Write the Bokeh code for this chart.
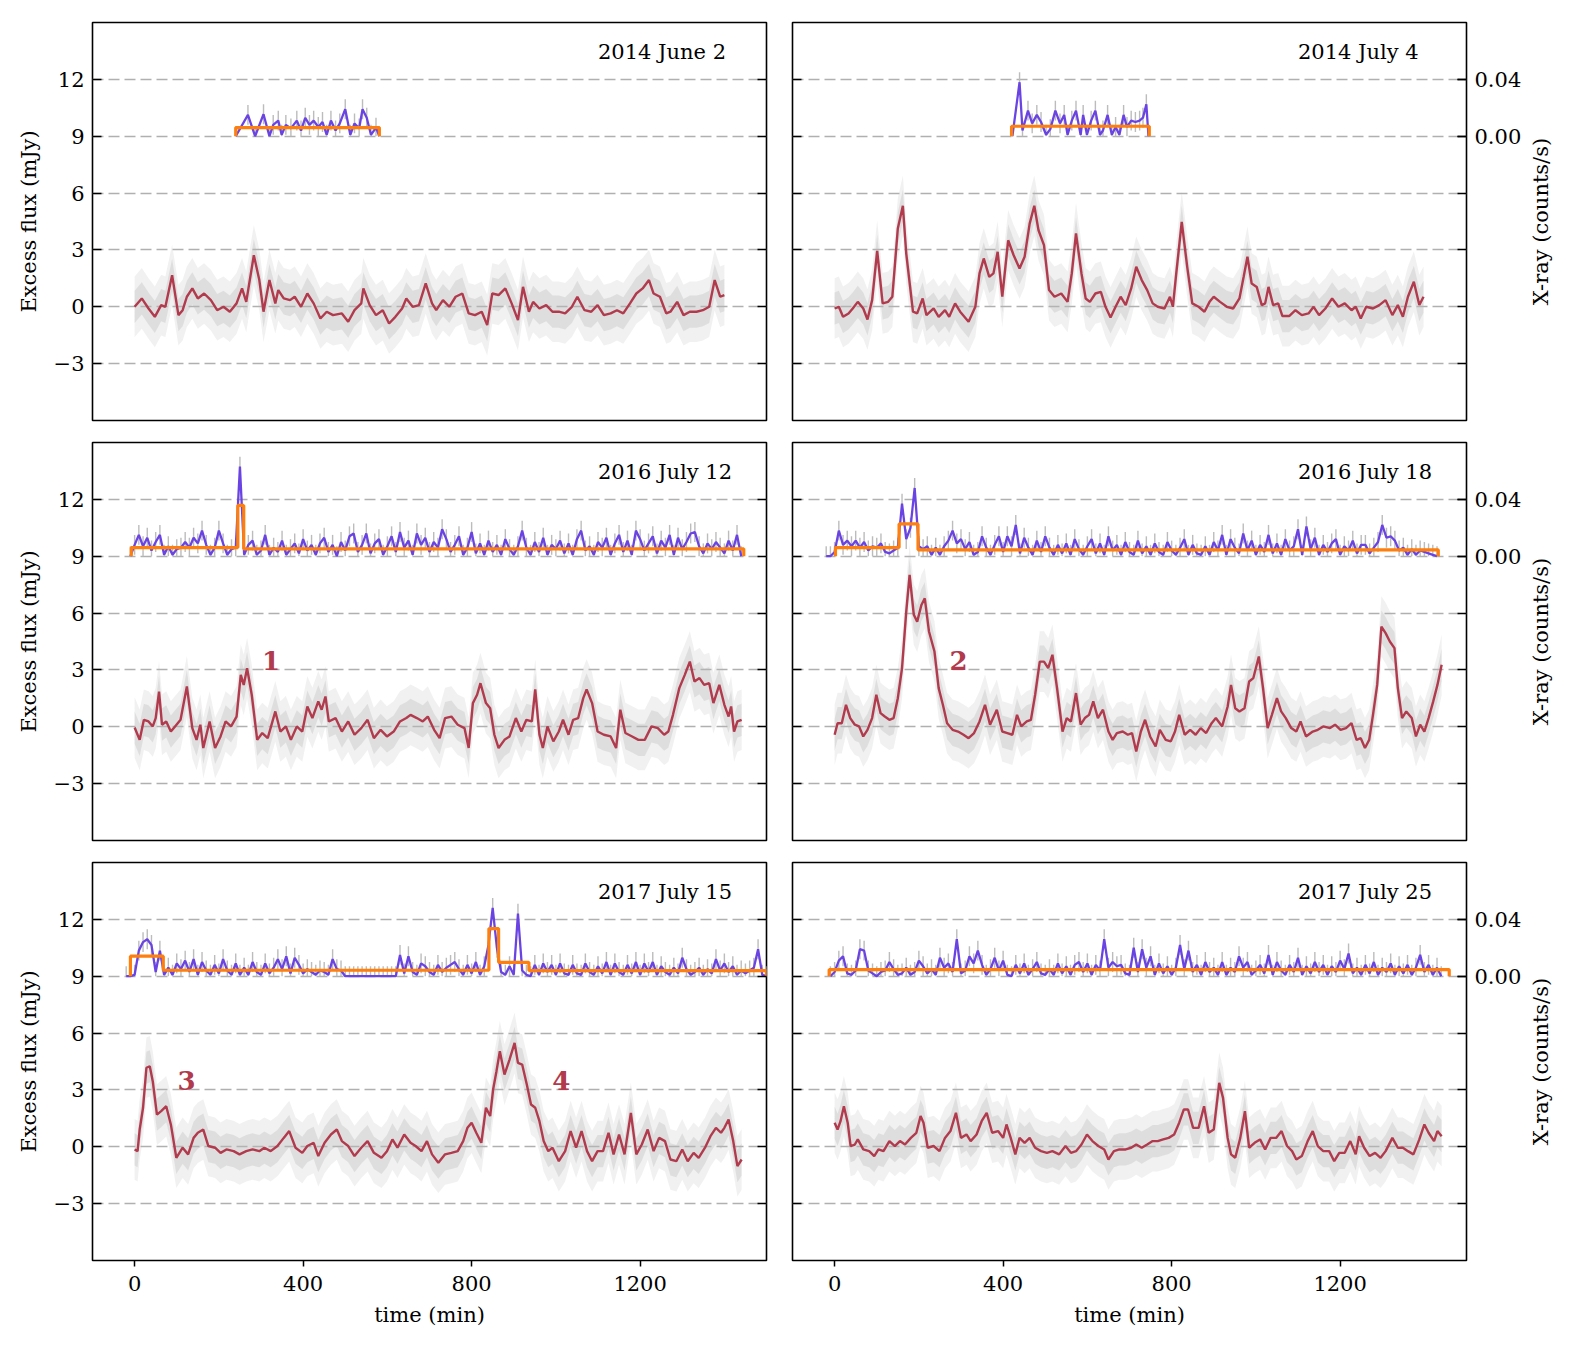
import numpy as np
from bokeh.plotting import figure
from bokeh.models import (Range1d, LinearAxis, FixedTicker, CustomJSTickFormatter,
                          CustomLabelingPolicy, PrintfTickFormatter, Label, Grid)
from bokeh.layouts import column, row
from bokeh.embed import file_html
from bokeh.resources import INLINE

FONT = "DejaVu Serif"
RED = "#b13a4d"
PURPLE = "#6a44e2"
ORANGE = "#ff7f0e"
CLOUD = "#b8b8b8"
ERRBAR = "#bcbcbc"

FLUX_TICKS = [-3, 0, 3, 6, 9, 12]
XRAY_TICKS = [0.0, 0.04]
TIME_TICKS = [0, 400, 800, 1200]

# half-widths (mJy) of the dense core and of the full spread of the 1-min radio points
CLOUD_CORE = 0.85
CLOUD_WIDE = 1.6
# typical 1-sigma error of an X-ray bin (counts/s)
XRAY_ERR = 0.007

# ---- smoothed radio light curves: (time [min], excess flux [mJy]) ----
RADIO_140602 = [(0, 0.0), (17, 0.44), (33, -0.09), (48, -0.53), (63, 0.09), (73, 0.0), (89, 1.67), (104, -0.44),
                (114, -0.18), (124, 0.53), (137, 0.97), (150, 0.44), (165, 0.70), (181, 0.35), (196, -0.18), (211, 0.0),
                (226, -0.26), (242, 0.18), (255, 0.97), (265, 0.26), (283, 2.72), (296, 1.41), (306, -0.26), (320, 1.41),
                (334, 0.18), (341, 0.88), (354, 0.44), (369, 0.35), (380, 0.53), (395, 0.0), (410, 0.70), (425, 0.18),
                (441, -0.62), (456, -0.26), (471, -0.44), (492, -0.35), (507, -0.79), (522, -0.18), (538, 0.18),
                (543, 0.97), (558, 0.09), (573, -0.44), (589, -0.18), (604, -0.88), (619, -0.53), (635, -0.09),
                (645, 0.44), (660, 0.0), (675, 0.09), (691, 1.23), (706, 0.18), (716, -0.18), (732, 0.35), (747, 0.0),
                (762, 0.53), (778, 0.70), (793, -0.35), (808, -0.44), (824, -0.26), (837, -0.97), (849, 0.70),
                (864, 0.62), (880, 0.97), (895, 0.18), (910, -0.70), (922, 1.05), (936, -0.26), (946, 0.26),
                (961, -0.09), (977, 0.09), (992, -0.26), (1007, -0.26), (1022, -0.35), (1038, 0.0), (1051, 0.53),
                (1068, -0.18), (1084, -0.26), (1099, 0.09), (1114, -0.44), (1130, -0.35), (1145, -0.18), (1160, -0.35),
                (1176, 0.18), (1191, 0.70), (1206, 0.97), (1221, 1.41), (1232, 0.70), (1247, 0.53), (1262, -0.35),
                (1272, -0.26), (1288, 0.26), (1303, -0.44), (1318, -0.26), (1334, -0.26), (1349, -0.18), (1364, 0.0),
                (1377, 1.41), (1390, 0.53), (1400, 0.62)]

RADIO_140704 = [(0, -0.09), (10, 0.0), (20, -0.53), (33, -0.35), (43, -0.09), (55, 0.26), (68, -0.09), (78, -0.67),
                (89, 0.35), (101, 2.95), (114, 0.18), (127, 0.26), (137, 0.53), (150, 4.13), (162, 5.33), (170, 2.81),
                (186, -0.26), (196, -0.35), (209, 0.44), (218, -0.44), (235, -0.09), (247, -0.53), (262, -0.18),
                (272, -0.53), (286, 0.18), (298, -0.26), (318, -0.79), (334, 0.0), (344, 1.76), (354, 2.55),
                (367, 1.58), (377, 1.76), (387, 2.90), (398, 0.53), (412, 3.51), (425, 2.72), (439, 2.02), (451, 2.64),
                (463, 4.39), (474, 5.33), (484, 4.04), (497, 3.25), (509, 0.88), (522, 0.53), (538, 0.70), (553, 0.26),
                (563, 1.76), (573, 3.87), (586, 1.76), (596, 0.44), (606, 0.26), (619, 0.70), (632, 0.79), (643, 0.0),
                (655, -0.56), (667, 0.0), (679, 0.53), (691, 0.09), (704, 0.97), (716, 2.11), (729, 1.41), (742, 0.88),
                (755, 0.18), (767, 0.0), (783, -0.09), (796, 0.53), (803, 0.0), (811, 1.76), (824, 4.48), (837, 2.11),
                (849, 0.18), (864, 0.0), (878, -0.26), (890, 0.26), (900, 0.53), (915, 0.26), (931, 0.0), (946, -0.09),
                (961, 0.44), (971, 1.58), (980, 2.64), (990, 1.23), (1002, 1.05), (1014, 0.09), (1022, 0.18),
                (1030, 1.05), (1041, 0.09), (1053, 0.18), (1063, -0.49), (1079, -0.49), (1094, -0.18), (1109, -0.44),
                (1125, -0.35), (1137, 0.0), (1150, -0.44), (1165, -0.09), (1181, 0.44), (1196, 0.0), (1211, 0.18),
                (1227, -0.18), (1237, 0.0), (1249, -0.62), (1262, 0.0), (1278, -0.09), (1293, 0.09), (1308, 0.35),
                (1324, -0.44), (1337, 0.09), (1349, -0.53), (1361, 0.53), (1375, 1.32), (1388, 0.09), (1398, 0.53)]

RADIO_160712 = [(0, -0.04), (12, -0.69), (22, 0.37), (33, 0.28), (43, 0.02), (50, 0.46), (58, 1.86), (65, 0.11),
                (75, 0.28), (86, -0.25), (96, 0.02), (109, 0.37), (124, 2.13), (137, -0.07), (147, -0.69), (156, 0.11),
                (163, -1.12), (178, 0.28), (191, -1.12), (204, -0.51), (216, 0.28), (229, 0.02), (242, 0.54),
                (252, 2.74), (259, 2.21), (267, 3.09), (278, 1.69), (291, -0.69), (303, -0.33), (316, -0.60),
                (334, 0.81), (346, -0.25), (359, 0.02), (371, -0.69), (385, 0.02), (398, -0.25), (410, 1.07),
                (422, 0.46), (436, 1.34), (444, 0.90), (453, 1.60), (461, 0.28), (477, 0.46), (492, -0.25), (507, 0.28),
                (522, -0.42), (538, -0.07), (553, 0.37), (568, -0.60), (584, -0.16), (599, -0.51), (615, -0.25),
                (630, 0.28), (645, 0.46), (655, 0.63), (670, 0.46), (684, 0.28), (696, 0.54), (711, -0.16),
                (724, -0.60), (737, 0.46), (752, 0.54), (767, 0.11), (783, -0.07), (793, -1.12), (803, 1.25),
                (813, 1.69), (821, 2.30), (834, 1.25), (844, 0.98), (854, -0.42), (864, -1.12), (878, -0.69),
                (890, -0.51), (905, 0.46), (918, -0.25), (930, 0.37), (943, 0.28), (951, 1.97), (961, -0.42),
                (969, -1.12), (980, 0.02), (994, -0.77), (1007, -0.25), (1017, 0.37), (1030, -0.42), (1041, 0.37),
                (1053, 0.46), (1065, 1.51), (1073, 1.97), (1086, 1.25), (1099, -0.25), (1114, -0.42), (1130, -0.51),
                (1143, -1.12), (1153, 0.90), (1165, -0.33), (1181, -0.51), (1196, -0.69), (1211, -0.69), (1227, 0.02),
                (1242, -0.07), (1257, -0.42), (1267, -0.25), (1278, 0.63), (1293, 2.04), (1306, 2.74), (1318, 3.44),
                (1329, 2.39), (1341, 2.57), (1352, 2.21), (1364, 2.30), (1374, 1.25), (1388, 2.21), (1400, 1.16),
                (1410, 0.54), (1416, 1.07), (1423, -0.25), (1431, 0.28), (1441, 0.37)]

RADIO_160718 = [(0, -0.42), (7, 0.19), (17, 0.19), (27, 1.16), (37, 0.46), (48, 0.11), (58, 0.02), (68, -0.51),
                (78, -0.16), (89, 0.46), (99, 1.69), (109, 0.72), (119, 0.54), (130, 0.37), (140, 0.46), (150, 1.51),
                (160, 3.09), (170, 6.08), (178, 8.01), (188, 5.91), (196, 5.55), (206, 6.43), (214, 6.78), (224, 5.03),
                (237, 3.97), (247, 2.04), (257, 1.16), (267, 0.19), (280, -0.16), (293, -0.25), (306, -0.42),
                (318, -0.60), (331, -0.33), (344, 0.28), (357, 1.16), (369, 0.11), (385, 0.90), (398, -0.25),
                (410, -0.33), (422, -0.42), (433, 0.63), (443, 0.02), (456, 0.28), (466, 0.37), (476, 1.69),
                (487, 3.44), (497, 3.44), (507, 3.09), (517, 3.80), (528, 2.04), (541, -0.25), (551, 0.46), (561, 0.28),
                (573, 1.78), (584, 0.11), (594, 0.46), (604, 0.63), (614, 1.34), (625, 0.46), (637, 0.90), (650, -0.25),
                (660, -0.69), (670, -0.33), (684, -0.25), (696, -0.42), (706, -0.33), (716, -1.30), (727, -0.25),
                (737, 0.37), (749, -0.51), (762, -1.04), (772, -0.16), (786, -0.69), (798, -0.77), (808, -0.25),
                (818, 0.63), (831, -0.42), (844, -0.16), (857, -0.42), (869, -0.07), (882, -0.33), (895, 0.19),
                (905, 0.46), (920, 0.02), (933, 1.07), (941, 2.21), (951, 0.98), (961, 0.81), (973, 0.98), (984, 2.39),
                (994, 2.57), (1007, 3.71), (1017, 2.04), (1028, -0.07), (1038, 0.63), (1050, 1.51), (1060, 0.81),
                (1071, 0.46), (1084, -0.07), (1096, -0.25), (1106, 0.28), (1119, -0.51), (1135, -0.25), (1147, -0.16),
                (1160, 0.02), (1176, -0.07), (1188, 0.11), (1201, -0.16), (1214, -0.07), (1227, 0.19), (1239, -0.69),
                (1249, -0.60), (1259, -1.12), (1269, -0.69), (1278, 0.63), (1288, 2.21), (1298, 5.29), (1308, 4.94),
                (1318, 4.50), (1329, 4.15), (1337, 2.04), (1347, 0.46), (1357, 0.81), (1370, 0.46), (1380, -0.51),
                (1390, 0.11), (1400, -0.25), (1410, 0.46), (1421, 1.34), (1431, 2.21), (1441, 3.27)]

RADIO_170715 = [(0, -0.14), (7, -0.23), (12, 0.91), (20, 2.06), (28, 4.17), (36, 4.25), (43, 3.46), (53, 1.70),
                (63, 1.88), (75, 2.14), (86, 1.18), (99, -0.58), (114, -0.05), (127, -0.40), (140, 0.47), (150, 0.74),
                (163, 0.91), (175, 0.04), (191, -0.05), (204, -0.32), (218, -0.14), (235, -0.23), (249, -0.40),
                (265, -0.23), (280, -0.14), (296, -0.23), (308, -0.05), (323, -0.23), (339, 0.04), (354, 0.47),
                (367, 0.83), (382, -0.05), (398, -0.32), (410, 0.04), (425, 0.21), (436, -0.49), (451, 0.21),
                (466, 0.65), (480, 0.91), (492, 0.30), (507, 0.04), (522, -0.49), (538, -0.05), (553, 0.30),
                (568, -0.32), (586, -0.58), (599, -0.23), (612, 0.39), (624, -0.05), (640, 0.65), (655, 0.21),
                (667, 0.04), (681, -0.23), (694, 0.30), (706, -0.40), (721, -0.84), (737, -0.40), (752, -0.32),
                (767, -0.23), (780, 0.30), (790, 1.00), (800, 1.27), (811, 0.74), (823, 0.21), (834, 2.06), (844, 1.62),
                (851, 3.02), (859, 3.99), (867, 5.04), (878, 3.81), (890, 4.60), (902, 5.48), (910, 4.43), (920, 4.34),
                (931, 3.29), (941, 2.23), (951, 2.06), (961, 1.35), (971, 0.30), (982, -0.23), (992, -0.05),
                (1007, -0.76), (1022, -0.23), (1035, 0.83), (1048, -0.05), (1061, 0.83), (1074, -0.23), (1086, -0.76),
                (1099, -0.23), (1112, -0.23), (1125, 0.74), (1137, -0.40), (1150, 0.65), (1163, -0.40), (1178, 1.79),
                (1191, -0.40), (1204, 0.12), (1218, 0.91), (1232, -0.23), (1245, 0.47), (1259, 0.30), (1272, -0.67),
                (1286, -0.76), (1300, -0.14), (1313, -0.76), (1327, -0.32), (1339, -0.58), (1354, -0.05), (1367, 0.56),
                (1380, 1.00), (1392, 0.74), (1400, 1.00), (1410, 1.44), (1421, 0.30), (1431, -1.02), (1441, -0.67)]

RADIO_170725 = [(0, 1.27), (7, 0.91), (14, 1.35), (22, 2.14), (31, 1.27), (38, 0.04), (48, 0.12), (55, 0.39),
                (68, -0.14), (82, -0.23), (94, -0.49), (104, -0.14), (116, -0.23), (130, 0.30), (143, 0.04), (155, 0.30),
                (167, 0.12), (181, 0.47), (194, 0.74), (204, 1.62), (211, 1.27), (221, -0.05), (235, 0.04),
                (249, -0.23), (262, 0.47), (275, 0.83), (288, 1.79), (300, 0.47), (313, 0.65), (323, 0.30), (337, 0.65),
                (349, 1.35), (361, 1.79), (374, 0.74), (388, 0.83), (400, 0.47), (408, 1.18), (418, 0.47), (429, -0.40),
                (439, 0.47), (451, 0.21), (463, 0.47), (476, -0.05), (490, -0.23), (504, -0.32), (517, -0.23),
                (533, -0.40), (548, 0.04), (561, -0.32), (573, -0.23), (586, 0.12), (599, 0.65), (612, 0.30),
                (626, 0.04), (640, -0.14), (650, -0.67), (663, -0.23), (676, -0.14), (691, -0.14), (704, -0.05),
                (716, 0.12), (729, -0.05), (742, 0.12), (755, 0.30), (767, 0.30), (780, 0.39), (793, 0.47), (806, 0.65),
                (818, 1.27), (829, 1.97), (839, 1.97), (851, 1.00), (864, 1.00), (877, 2.14), (888, 0.74), (900, 0.91),
                (913, 3.37), (922, 2.58), (933, 0.47), (941, -0.40), (951, -0.58), (963, 0.47), (974, 1.88),
                (984, -0.05), (997, 0.21), (1010, 0.39), (1022, -0.14), (1035, 0.47), (1048, 0.47), (1061, 0.83),
                (1074, 0.04), (1086, -0.23), (1096, -0.67), (1109, -0.49), (1123, 0.30), (1135, 0.83), (1147, 0.04),
                (1160, -0.23), (1174, -0.23), (1186, -0.76), (1198, -0.32), (1211, -0.32), (1224, 0.30), (1237, -0.40),
                (1245, 0.56), (1257, -0.05), (1270, -0.49), (1283, -0.32), (1296, -0.58), (1308, -0.23), (1324, 0.47),
                (1337, -0.05), (1349, -0.05), (1361, -0.23), (1374, -0.40), (1388, 0.39), (1400, 1.18), (1410, 0.74),
                (1423, 0.30), (1431, 0.83), (1441, 0.56)]

# ---- X-ray rates in units of 1e-3 counts/s ----
XRAY_140602 = [(240, 0), (269, 15), (286, 0), (306, 15.5), (320, 0), (329, 8), (341, 11), (349, 1), (359, 8),
               (371, 5.5), (385, 11), (395, 4), (405, 13), (415, 8), (425, 11), (436, 6.5), (446, 10), (456, 1),
               (466, 11), (477, 4), (487, 9), (500, 19), (512, 1), (522, 9), (533, 5.5), (541, 19), (551, 13),
               (561, 1), (573, 6), (581, 0)]
XRAY_140704 = [(422, 0), (439, 38), (446, 4), (459, 18), (469, 9), (480, 15), (490, 10), (502, 1), (512, 5),
               (524, 18), (535, 9), (545, 15), (553, 1), (563, 11), (573, 18), (584, 1), (590, 15), (599, 1),
               (609, 11), (619, 18), (630, 1), (637, 4), (648, 15), (658, 1), (667, 6.5), (676, 1), (686, 15),
               (694, 6.5), (704, 11), (714, 10), (724, 11), (732, 13), (740, 22.5), (745, 0)]
# 10-minute bins: first bin time, then rates
XRAY_160712_START = -10
XRAY_160712 = [0, 8, 15, 7, 13, 4, 10, 15, 1, 7, 1, 5, 6, 10, 6, 13, 9, 18, 8, 1,
               6, 18, 9, 1, 5, 6, 63, 1, 8, 11, 1, 4, 15, 1, 6, 3, 11, 1, 5, 9,
               2, 12, 4, 8, 1, 9, 13, 3, 8, 0, 10, 4, 14, 16, 3, 8, 16, 2, 9, 12,
               1, 7, 14, 3, 17, 6, 11, 1, 16, 8, 13, 3, 10, 6, 19, 12, 3, 8, 14, 1,
               6, 17, 2, 9, 1, 11, 3, 8, 1, 12, 5, 1, 7, 18, 6, 1, 10, 3, 13, 1,
               8, 5, 11, 2, 9, 1, 12, 18, 4, 7, 1, 10, 6, 13, 1, 9, 15, 3, 11, 1,
               18, 12, 4, 9, 14, 2, 11, 6, 15, 1, 13, 5, 10, 16, 17, 7, 2, 9, 5, 10,
               6, 2, 11, 4, 15, 0]
XRAY_160718_START = -20
XRAY_160718 = [0, 0, 3, 18, 8, 11, 7, 11, 6, 10, 4, 7, 6, 9, 3, 2, 4, 6, 37, 12,
               20, 48, 7, 5, 7, 1, 6, 1, 7, 11, 18, 9, 12, 5, 10, 1, 3, 14, 6, 1,
               8, 14, 3, 14, 7, 22, 2, 13, 6, 1, 11, 3, 14, 6, 1, 8, 2, 9, 1, 12,
               5, 1, 7, 12, 2, 9, 1, 14, 4, 8, 1, 10, 3, 1, 11, 2, 7, 1, 9, 3,
               1, 10, 4, 1, 6, 12, 1, 8, 2, 1, 7, 1, 10, 4, 15, 1, 12, 6, 2, 16,
               4, 11, 1, 8, 3, 15, 2, 9, 1, 12, 4, 7, 19, 1, 21, 5, 13, 1, 8, 3,
               9, 12, 1, 7, 4, 11, 2, 8, 8, 2, 6, 10, 22, 13, 14, 11, 4, 6, 1, 5,
               1, 4, 3, 2, 1, 0]
XRAY_170715_START = -20
XRAY_170715 = [0, 0, 1, 18, 24, 26, 22, 3, 18, 1, 6, 1, 9, 5, 11, 3, 12, 1, 10, 4,
               1, 8, 2, 12, 4, 1, 9, 1, 6, 1, 10, 3, 1, 9, 2, 6, 12, 5, 14, 2,
               13, 8, 2, 5, 3, 1, 4, 3, 1, 12, 5, 4, 0, 0, 0, 0, 0, 0, 0, 0,
               0, 0, 0, 0, 0, 15, 2, 14, 3, 1, 9, 7, 3, 1, 8, 3, 6, 8, 10, 5,
               1, 8, 2, 10, 1, 7, 22, 48, 20, 3, 1, 7, 1, 44, 4, 1, 0, 8, 1, 9,
               3, 8, 1, 9, 2, 1, 8, 2, 1, 9, 3, 1, 7, 2, 10, 1, 9, 3, 1, 8,
               2, 10, 1, 9, 3, 10, 1, 7, 3, 1, 6, 2, 13, 5, 1, 3, 6, 1, 5, 2,
               12, 4, 9, 3, 7, 1, 4, 2, 4, 6, 19, 1, 0]
XRAY_170725_START = -10
XRAY_170725 = [0, 3, 11, 14, 2, 1, 4, 19, 18, 4, 2, 0, 3, 4, 10, 5, 1, 2, 6, 1,
               3, 11, 7, 2, 5, 1, 13, 6, 9, 3, 26, 2, 4, 14, 9, 18, 8, 1, 5, 13,
               4, 11, 1, 0, 8, 2, 9, 1, 5, 10, 2, 1, 5, 1, 9, 2, 7, 1, 8, 10,
               3, 9, 1, 8, 4, 26, 6, 10, 7, 8, 2, 1, 20, 3, 19, 6, 14, 1, 9, 2,
               7, 1, 6, 22, 5, 18, 3, 8, 1, 10, 3, 6, 1, 10, 1, 6, 3, 14, 6, 10,
               1, 4, 8, 2, 15, 1, 10, 4, 1, 8, 3, 13, 1, 7, 2, 10, 3, 8, 1, 7,
               3, 11, 5, 16, 2, 6, 1, 8, 2, 10, 1, 6, 3, 9, 1, 7, 2, 8, 1, 6,
               15, 3, 8, 1, 6, 0]

# ---- Bayesian-block edges [min] and block rates [1e-3 counts/s] ----
BLOCK_EDGES_140602, BLOCK_RATES_140602 = [240, 581], [6.1]
BLOCK_EDGES_140704, BLOCK_RATES_140704 = [420, 747], [7.0]
BLOCK_EDGES_160712, BLOCK_RATES_160712 = [-8, 245, 259, 1446], [6.1, 35.7, 5.2]
BLOCK_EDGES_160718, BLOCK_RATES_160718 = [2, 153, 198, 1433], [6.1, 22.7, 4.5]
BLOCK_EDGES_170715, BLOCK_RATES_170715 = [-10, 68, 841, 864, 936, 1500], [14.1, 4.2, 33.5, 9.8, 4.0]
BLOCK_EDGES_170725, BLOCK_RATES_170725 = [-13, 1459], [4.7]

# numbered flares: (time [min], label)
FLARES_160712 = [(324, "1")]
FLARES_160718 = [(294, "2")]
FLARES_170715 = [(123, "3"), (1013, "4")]


def binned(start, rates):
    t = start + 10 * np.arange(len(rates))
    return list(zip(t.tolist(), rates))


PANELS = [
    ("2014 June 2", RADIO_140602, XRAY_140602, BLOCK_EDGES_140602, BLOCK_RATES_140602, []),
    ("2014 July 4", RADIO_140704, XRAY_140704, BLOCK_EDGES_140704, BLOCK_RATES_140704, []),
    ("2016 July 12", RADIO_160712, binned(XRAY_160712_START, XRAY_160712), BLOCK_EDGES_160712, BLOCK_RATES_160712, FLARES_160712),
    ("2016 July 18", RADIO_160718, binned(XRAY_160718_START, XRAY_160718), BLOCK_EDGES_160718, BLOCK_RATES_160718, FLARES_160718),
    ("2017 July 15", RADIO_170715, binned(XRAY_170715_START, XRAY_170715), BLOCK_EDGES_170715, BLOCK_RATES_170715, FLARES_170715),
    ("2017 July 25", RADIO_170725, binned(XRAY_170725_START, XRAY_170725), BLOCK_EDGES_170725, BLOCK_RATES_170725, []),
]

MINUS_JS = "return tick < 0 ? '\u2212' + (-tick) : String(tick);"
BLANK_JS = "return '';"

T_MIN, T_MAX = -100, 1500
F_MIN, F_MAX = -6, 15
FRAME_W, FRAME_H = 674, 398
TICK_LEN_PX = 9


def borders(rw):
    return dict(min_border_top=22 if rw == 0 else 11,
                min_border_bottom=90 if rw == 2 else 11)


def block_outline(edges, rates):
    xs, ys = [edges[0]], [0.0]
    for i, r in enumerate(rates):
        xs += [edges[i], edges[i + 1]]
        ys += [r, r]
    xs.append(edges[-1])
    ys.append(0.0)
    return xs, ys


def style_axis(ax):
    ax.axis_line_color = None
    ax.major_tick_line_color = "black"
    ax.major_tick_line_width = 1.5
    ax.minor_tick_line_color = None
    ax.major_label_text_font = FONT
    ax.major_label_text_font_size = "21px"
    ax.major_label_text_color = "black"
    ax.axis_label_text_font = FONT
    ax.axis_label_text_font_size = "21px"
    ax.axis_label_text_font_style = "normal"
    ax.axis_label_text_color = "black"


def flux_tick_axis(labelled):
    ax = LinearAxis(ticker=FixedTicker(ticks=FLUX_TICKS))
    style_axis(ax)
    ax.major_tick_in = TICK_LEN_PX
    ax.major_tick_out = 0
    if labelled:
        ax.formatter = CustomJSTickFormatter(code=MINUS_JS)
        ax.major_label_standoff = 8
    else:
        # tick marks only, no tick labels on this side
        ax.formatter = CustomJSTickFormatter(code=BLANK_JS)
        ax.major_label_policy = CustomLabelingPolicy(code="return [];")
        ax.major_label_standoff = 0
    return ax


def make_panel(idx, spec):
    date, radio, xray, edges, rates, flares = spec
    col, rw = idx % 2, idx // 2
    p = figure(frame_width=FRAME_W, frame_height=FRAME_H,
               x_range=Range1d(T_MIN, T_MAX), y_range=Range1d(F_MIN, F_MAX),
               x_axis_location=None, y_axis_location=None,
               output_backend="svg", toolbar_location=None,
               min_border_left=92 if col == 0 else 13,
               min_border_right=13 if col == 0 else 56,
               **borders(rw))
    p.xgrid.visible = False
    p.ygrid.visible = False
    p.extra_y_ranges = {"xray": Range1d(-0.2, 0.08)}
    p.outline_line_color = "black"
    p.outline_line_width = 1.6
    p.background_fill_color = "white"
    p.border_fill_color = "white"

    p.add_layout(Grid(dimension=1, ticker=FixedTicker(ticks=FLUX_TICKS),
                      grid_line_color="#b0b0b0", grid_line_width=1.4, grid_line_dash="11 5"))

    t = np.array([a for a, _ in radio], dtype=float)
    f = np.array([b for _, b in radio], dtype=float)
    p.varea(x=t, y1=f - CLOUD_WIDE, y2=f + CLOUD_WIDE, fill_color=CLOUD, fill_alpha=0.2)
    p.varea(x=t, y1=f - CLOUD_CORE, y2=f + CLOUD_CORE, fill_color=CLOUD, fill_alpha=0.32)
    p.line(t, f, line_color=RED, line_width=2.4)

    xt = np.array([a for a, _ in xray], dtype=float)
    xr = np.array([b for _, b in xray], dtype=float) / 1000.0
    p.segment(x0=xt, y0=np.maximum(xr - XRAY_ERR, 0.0), x1=xt, y1=xr + XRAY_ERR,
              y_range_name="xray", line_color=ERRBAR, line_width=1.4)
    p.line(xt, xr, y_range_name="xray", line_color=PURPLE, line_width=2.3)
    bx, by = block_outline(edges, [r / 1000.0 for r in rates])
    p.line(bx, by, y_range_name="xray", line_color=ORANGE, line_width=3.2)

    p.add_layout(Label(x=1100, y=13.42, text=date, text_font=FONT, text_font_size="21px",
                       text_baseline="alphabetic", text_align="left", text_color="black"))
    for ft, lab in flares:
        p.add_layout(Label(x=ft, y=3.48, text=lab, text_font=FONT, text_font_size="26px",
                           text_font_style="bold", text_color=RED,
                           text_baseline="alphabetic", text_align="center"))

    left = flux_tick_axis(labelled=(col == 0))
    if col == 0:
        left.axis_label = "Excess flux (mJy)"
        left.axis_label_standoff = 10
    p.add_layout(left, "left")

    if col == 0:
        right = flux_tick_axis(labelled=False)
    else:
        # count-rate scale sharing the frame: 0.00 at 9 mJy, 0.04 at 12 mJy
        right = LinearAxis(y_range_name="xray", ticker=FixedTicker(ticks=XRAY_TICKS),
                           formatter=PrintfTickFormatter(format="%.2f"))
        style_axis(right)
        right.major_tick_in = TICK_LEN_PX
        right.major_tick_out = 0
        right.major_label_standoff = 8
        # flux-level tick marks on this edge too (no labels)
        extra = flux_tick_axis(labelled=False)
        p.add_layout(extra, "right")
    p.add_layout(right, "right")

    if rw == 2:
        bottom = LinearAxis(ticker=FixedTicker(ticks=TIME_TICKS), axis_label="time (min)")
        style_axis(bottom)
        bottom.major_tick_out = 6
        bottom.major_tick_in = 0
        bottom.major_label_standoff = 9
        bottom.axis_label_standoff = 9
        p.add_layout(bottom, "below")
    return p


def xray_title_strip(rw):
    # narrow strip carrying the count-rate axis title, reading bottom-to-top
    s = figure(frame_width=1, frame_height=FRAME_H, x_range=Range1d(0, 1), y_range=Range1d(0, 1),
               x_axis_location=None, y_axis_location=None,
               output_backend="svg", toolbar_location=None,
               min_border_left=36, min_border_right=16, **borders(rw))
    s.xgrid.visible = False
    s.ygrid.visible = False
    s.outline_line_color = None
    s.background_fill_color = "white"
    s.border_fill_color = "white"
    ax = LinearAxis(ticker=FixedTicker(ticks=[]), axis_label="X-ray (counts/s)")
    style_axis(ax)
    ax.major_tick_in = 0
    ax.major_tick_out = 0
    ax.major_label_standoff = 0
    ax.axis_label_standoff = 8
    s.add_layout(ax, "left")
    return s


figs = [make_panel(i, spec) for i, spec in enumerate(PANELS)]
layout = column(*[row(figs[2 * r], figs[2 * r + 1], xray_title_strip(r)) for r in range(3)])

with open("out.html", "w", encoding="utf-8") as fh:
    fh.write(file_html(layout, INLINE))
